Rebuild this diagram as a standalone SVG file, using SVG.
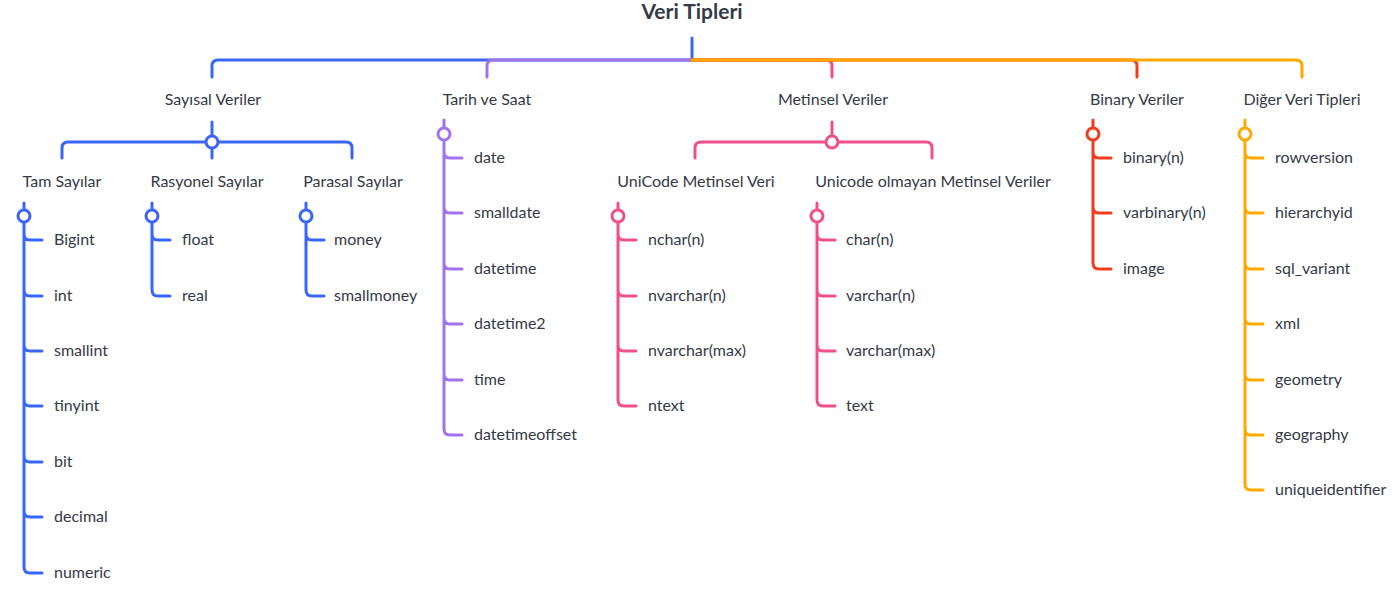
<svg xmlns="http://www.w3.org/2000/svg" width="1400" height="595" viewBox="0 0 1400 595">
<style>
text{font-family:Lato,"Noto Sans","Liberation Sans",sans-serif;font-size:16px;fill:#343a46}
.t{font-size:21px;font-weight:bold;text-anchor:middle}
.c{text-anchor:middle}
path{fill:none;stroke-width:3;stroke-linecap:round;stroke-linejoin:round}
circle{fill:#fff;stroke-width:3}
.b{stroke:#3a66f5}.p{stroke:#a173ec}.k{stroke:#f0508a}.r{stroke:#f23a1d}.o{stroke:#ffa800}
</style>
<rect width="1400" height="595" fill="#fff"/>
<g id="root"><text class="t" x="692" y="19">Veri Tipleri</text></g>
<g id="connectors">
<path class="b" d="M692,38 V60 H218 Q212,60 212,66 V77"/>
<path class="p" d="M692,60 H493 Q487,60 487,66 V77"/>
<path class="k" d="M692,60 H826 Q832,60 832,66 V77"/>
<path class="r" d="M692,60 H1131 Q1137,60 1137,66 V77"/>
<path class="o" d="M692,60 H1296 Q1302,60 1302,66 V77"/>
<path class="b" d="M212,122 V136 M212,148 V158 M212,142 H68 Q62,142 62,148 V158 M212,142 H346 Q352,142 352,148 V158"/>
<path class="b" d="M24,203 V210 M24,222 V567 Q24,573 30,573 H42 M24,234 Q24,240 30,240 H42 M24,290 Q24,296 30,296 H42 M24,345 Q24,351 30,351 H42 M24,400 Q24,406 30,406 H42 M24,456 Q24,462 30,462 H42 M24,511 Q24,517 30,517 H42"/>
<path class="b" d="M152,203 V210 M152,222 V290 Q152,296 158,296 H170 M152,234 Q152,240 158,240 H170"/>
<path class="b" d="M306,203 V210 M306,222 V290 Q306,296 312,296 H324 M306,234 Q306,240 312,240 H324"/>
<path class="p" d="M444,120 V128 M444,140 V429 Q444,435 450,435 H462 M444,152 Q444,158 450,158 H462 M444,207 Q444,213 450,213 H462 M444,263 Q444,269 450,269 H462 M444,318 Q444,324 450,324 H462 M444,374 Q444,380 450,380 H462"/>
<path class="k" d="M832,122 V136 M832,142 H701 Q695,142 695,148 V158 M832,142 H926 Q932,142 932,148 V158"/>
<path class="k" d="M618,203 V210 M618,222 V400 Q618,406 624,406 H636 M618,234 Q618,240 624,240 H636 M618,290 Q618,296 624,296 H636 M618,345 Q618,351 624,351 H636"/>
<path class="k" d="M817,203 V210 M817,222 V400 Q817,406 823,406 H835 M817,234 Q817,240 823,240 H835 M817,290 Q817,296 823,296 H835 M817,345 Q817,351 823,351 H835"/>
<path class="r" d="M1093,120 V128 M1093,140 V263 Q1093,269 1099,269 H1111 M1093,152 Q1093,158 1099,158 H1111 M1093,207 Q1093,213 1099,213 H1111"/>
<path class="o" d="M1245,120 V128 M1245,140 V484 Q1245,490 1251,490 H1263 M1245,152 Q1245,158 1251,158 H1263 M1245,207 Q1245,213 1251,213 H1263 M1245,263 Q1245,269 1251,269 H1263 M1245,318 Q1245,324 1251,324 H1263 M1245,374 Q1245,380 1251,380 H1263 M1245,429 Q1245,435 1251,435 H1263"/>
<circle class="b" cx="212" cy="142" r="6"/>
<circle class="b" cx="24" cy="216" r="6"/>
<circle class="b" cx="152" cy="216" r="6"/>
<circle class="b" cx="306" cy="216" r="6"/>
<circle class="p" cx="444" cy="134" r="6"/>
<circle class="k" cx="832" cy="142" r="6"/>
<circle class="k" cx="618" cy="216" r="6"/>
<circle class="k" cx="817" cy="216" r="6"/>
<circle class="r" cx="1093" cy="134" r="6"/>
<circle class="o" cx="1245" cy="134" r="6"/>
</g>
<g id="sayisal"><text class="c" x="213" y="105">Sayısal Veriler</text></g>
<g id="tam"><text class="c" x="62" y="187">Tam Sayılar</text>
<text x="54" y="245">Bigint</text><text x="54" y="301">int</text><text x="54" y="356">smallint</text><text x="54" y="411">tinyint</text><text x="54" y="467">bit</text><text x="54" y="522">decimal</text><text x="54" y="578">numeric</text></g>
<g id="rasyonel"><text class="c" x="207" y="187">Rasyonel Sayılar</text>
<text x="182" y="245">float</text><text x="182" y="301">real</text></g>
<g id="parasal"><text class="c" x="353" y="187">Parasal Sayılar</text>
<text x="334" y="245">money</text><text x="334" y="301">smallmoney</text></g>
<g id="tarih"><text class="c" x="487" y="105">Tarih ve Saat</text>
<text x="474" y="163">date</text><text x="474" y="218">smalldate</text><text x="474" y="274">datetime</text><text x="474" y="329">datetime2</text><text x="474" y="385">time</text><text x="474" y="440">datetimeoffset</text></g>
<g id="metinsel"><text class="c" x="833" y="105">Metinsel Veriler</text></g>
<g id="unicode"><text class="c" x="696" y="187">UniCode Metinsel Veri</text>
<text x="648" y="245">nchar(n)</text><text x="648" y="301">nvarchar(n)</text><text x="648" y="356">nvarchar(max)</text><text x="648" y="411">ntext</text></g>
<g id="nonunicode"><text class="c" x="933" y="187">Unicode olmayan Metinsel Veriler</text>
<text x="846" y="245">char(n)</text><text x="846" y="301">varchar(n)</text><text x="846" y="356">varchar(max)</text><text x="846" y="411">text</text></g>
<g id="binary"><text class="c" x="1137" y="105">Binary Veriler</text>
<text x="1123" y="163">binary(n)</text><text x="1123" y="218">varbinary(n)</text><text x="1123" y="274">image</text></g>
<g id="diger"><text class="c" x="1302" y="105">Diğer Veri Tipleri</text>
<text x="1275" y="163">rowversion</text><text x="1275" y="218">hierarchyid</text><text x="1275" y="274">sql_variant</text><text x="1275" y="329">xml</text><text x="1275" y="385">geometry</text><text x="1275" y="440">geography</text><text x="1275" y="495">uniqueidentifier</text></g>
</svg>
